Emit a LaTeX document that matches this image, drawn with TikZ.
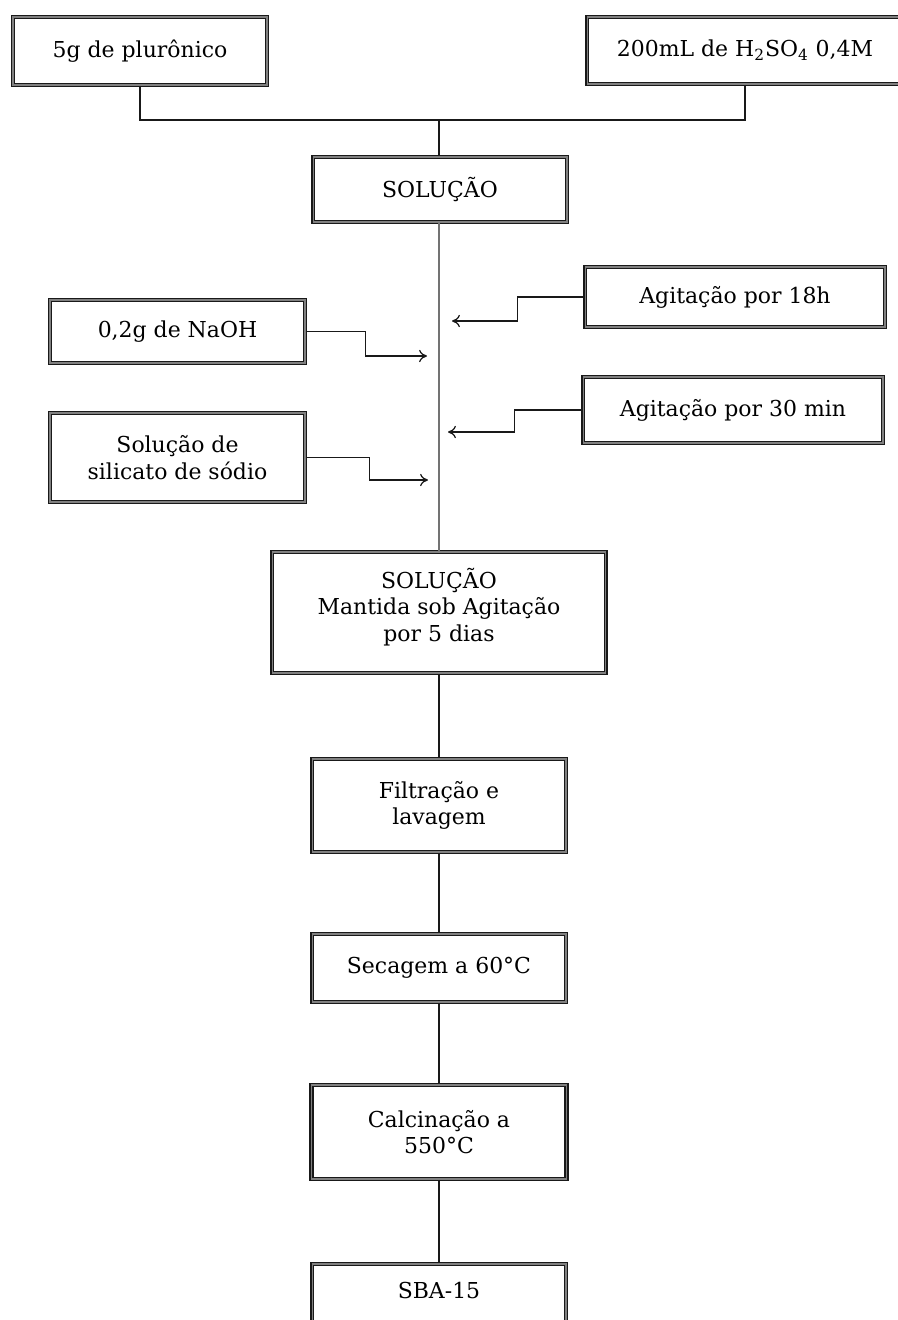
\documentclass[tikz,border=0pt]{standalone}
\usepackage{fontspec}
\setmainfont{DejaVu Serif}
\usetikzlibrary{calc,arrows.meta}
\tikzset{
	caixa/.style={draw=black!90, double=black!50, double distance=0.6pt, line width=0.95pt, fill=white, align=center, inner sep=2pt, font=\fontsize{12.5}{15}\selectfont},
	liga/.style={line width=0.7pt, color=black!90},
	seta/.style={line width=0.7pt, color=black!90, -{To[length=4.5pt, width=7pt]}},
}

\begin{document}
\begin{tikzpicture}[x=0.02cm, y=-0.02cm]
			%%%%% START %%%%%
			
			\useasboundingbox (0, 0) rectangle (898, 1320);
			
			\node[caixa, minimum width=5.08cm, minimum height=1.36cm] (plur) at (140, 51) {5g de plurônico};
			\node[caixa, minimum width=6.32cm, minimum height=1.34cm] (acid) at (745, 50.5) {200mL de H\textsubscript{2}SO\textsubscript{4} 0,4M};
			\node[caixa, minimum width=5.08cm, minimum height=1.30cm] (sol) at (440, 189.5) {SOLUÇÃO};
			
			\node[caixa, minimum width=5.10cm, minimum height=1.26cm] (naoh) at (177.5, 331.5) {0,2g de NaOH};
			\node[caixa, minimum width=5.10cm, minimum height=1.78cm] (sil) at (177.5, 457.5) {Solução de\\silicato de sódio};
			\node[caixa, minimum width=6.00cm, minimum height=1.20cm] (ag18) at (735, 297) {Agitação por 18h};
			\node[caixa, minimum width=6.00cm, minimum height=1.32cm] (ag30) at (733, 410) {Agitação por 30 min};
			
			\node[caixa, minimum width=6.68cm, minimum height=2.42cm] (mant) at (439, 612.5) {SOLUÇÃO\\Mantida sob Agitação\\por 5 dias\\[-6pt]};
			\node[caixa, minimum width=5.08cm, minimum height=1.86cm] (filt) at (439, 805.5) {Filtração e\\lavagem};
			\node[caixa, minimum width=5.08cm, minimum height=1.36cm] (sec) at (439, 968) {Secagem a 60°C};
			\node[caixa, minimum width=5.10cm, minimum height=1.88cm] (calc) at (439, 1132) {Calcinação a\\550°C};
			\node[caixa, minimum width=5.08cm, minimum height=1.60cm] (sba) at (439, 1304) {SBA-15\\[1pt]};
			
			\coordinate (jn) at (439, 120);
			\draw[liga] (plur.south) |- (jn) -| (acid.south);
			\draw[liga] (jn) -- (jn |- sol.north);
			
			\draw[line width=1pt, color=black!55] (sol.south -| jn) -- (mant.north -| jn);
			
			\coordinate (inA) at (427, 356);
			\coordinate (inB) at (428, 480);
			\coordinate (inC) at (452, 321);
			\coordinate (inD) at (448, 432);
			\draw[seta] (naoh.east) -- ++(60, 0) |- (inA);
			\draw[seta] (sil.east) -- ++(64, 0) |- (inB);
			\draw[seta] (ag18.west) -- ++(-67, 0) |- (inC);
			\draw[seta] (ag30.west) -- ++(-68, 0) |- (inD);
			
			\draw[liga] (mant) -- (filt);
			\draw[liga] (filt) -- (sec);
			\draw[liga] (sec) -- (calc);
			\draw[liga] (calc) -- (sba);
			
			%%%%% END %%%%%
		\end{tikzpicture}
\end{document}
